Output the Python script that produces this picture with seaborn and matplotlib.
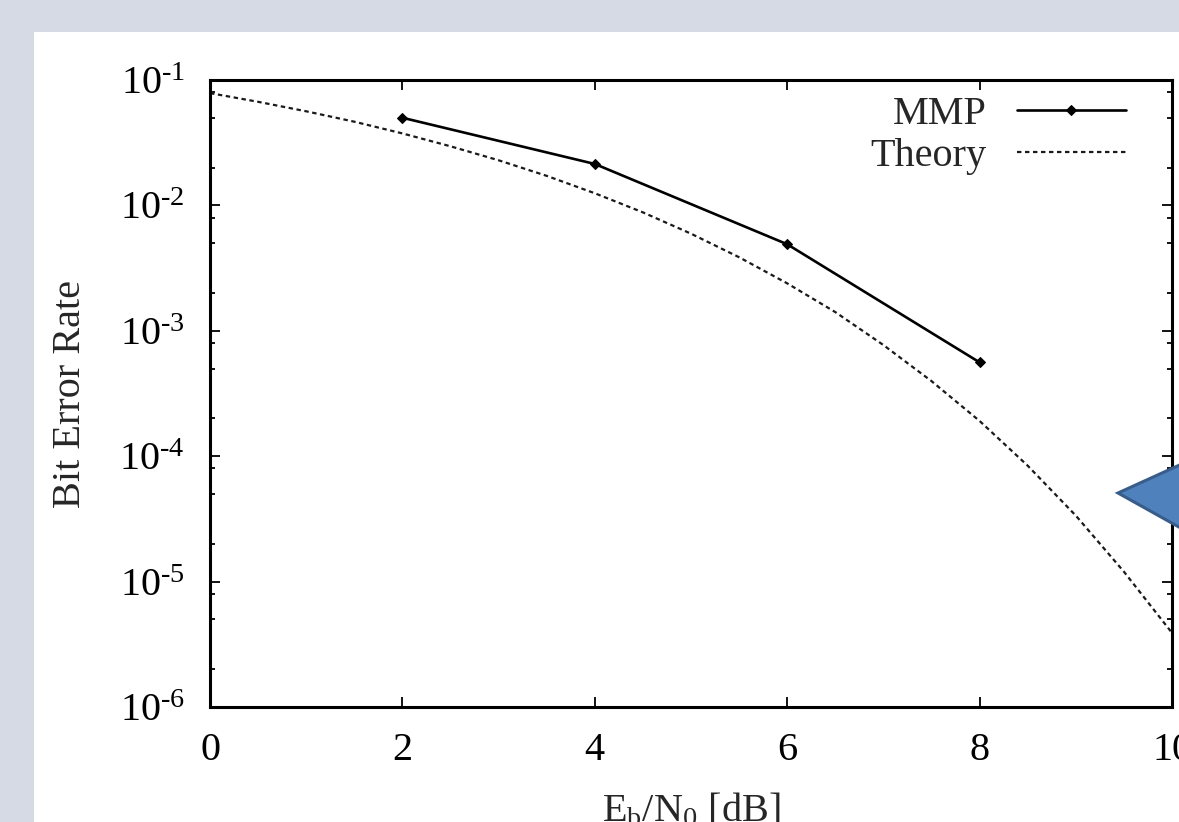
import matplotlib
matplotlib.use("Agg")
import matplotlib.pyplot as plt
from matplotlib.patches import Rectangle, Polygon
from matplotlib.ticker import LogLocator, NullFormatter, FixedLocator
import seaborn as sns
import pandas as pd

# ---- data ----
snr_theory = [0.0, 0.5, 1.0, 1.5, 2.0, 2.5, 3.0, 3.5, 4.0, 4.5, 5.0,
              5.5, 6.0, 6.5, 7.0, 7.5, 8.0, 8.5, 9.0, 9.5, 10.0]
ber_theory = [7.86e-2, 6.70e-2, 5.63e-2, 4.65e-2, 3.75e-2, 2.96e-2, 2.29e-2,
              1.72e-2, 1.25e-2, 8.8e-3, 5.95e-3, 3.86e-3, 2.39e-3, 1.41e-3,
              7.7e-4, 3.97e-4, 1.91e-4, 8.4e-5, 3.36e-5, 1.2e-5, 3.9e-6]
snr_mmp = [2, 4, 6, 8]
ber_mmp = [5.0e-2, 2.14e-2, 4.9e-3, 5.6e-4]

x_ticks = [0, 2, 4, 6, 8, 10]
x_tick_labels = ["0", "2", "4", "6", "8", "10"]
y_ticks = [1e-6, 1e-5, 1e-4, 1e-3, 1e-2, 1e-1]
y_tick_labels = [r"10$^{\text{-}6}$", r"10$^{\text{-}5}$", r"10$^{\text{-}4}$",
                 r"10$^{\text{-}3}$", r"10$^{\text{-}2}$", r"10$^{\text{-}1}$"]
series_labels = ["MMP", "Theory"]
x_label = r"E$_{\mathrm{b}}$/N$_{\mathrm{0}}$ [dB]"
y_label = "Bit Error Rate"

# ---- style ----
sns.set_style("ticks")
plt.rcParams["font.family"] = ["Liberation Serif", "DejaVu Serif"]
plt.rcParams["mathtext.fontset"] = "custom"
plt.rcParams["mathtext.rm"] = "Liberation Serif"
plt.rcParams["mathtext.it"] = "Liberation Serif:italic"
plt.rcParams["mathtext.bf"] = "Liberation Serif:bold"

FS = 29
W, H = 1179, 822
fig = plt.figure(figsize=(W / 100, H / 100), dpi=100)
fig.patch.set_facecolor("#d5dae4")
fig.add_artist(Rectangle((34 / W, 0), 1.0, (H - 32) / H, transform=fig.transFigure,
                         facecolor="white", edgecolor="none", zorder=-10))

ax = fig.add_axes([210 / W, (H - 707) / H, (1172 - 210) / W, (707 - 80) / H])
ax.set_facecolor("white")

df_mmp = pd.DataFrame({"snr": snr_mmp, "ber": ber_mmp})
df_th = pd.DataFrame({"snr": snr_theory, "ber": ber_theory})

sns.lineplot(data=df_mmp, x="snr", y="ber", ax=ax, color="black", linewidth=1.9,
             marker="D", markersize=5, markeredgecolor="black",
             label=series_labels[0])
sns.lineplot(data=df_th, x="snr", y="ber", ax=ax, color="#1a1a1a", linewidth=1.6,
             linestyle=(0, (2.0, 1.6)), label=series_labels[1])

ax.set_yscale("log")
ax.set_xlim(0, 10)
ax.set_ylim(1e-6, 1e-1)
ax.xaxis.set_major_locator(FixedLocator(x_ticks))
ax.set_xticklabels(x_tick_labels)
ax.yaxis.set_major_locator(FixedLocator(y_ticks))
ax.set_yticklabels(y_tick_labels)
ax.yaxis.set_minor_locator(LogLocator(base=10, subs=[2, 5, 8], numticks=20))
ax.yaxis.set_minor_formatter(NullFormatter())
ax.xaxis.set_minor_locator(FixedLocator([]))

for s in ax.spines.values():
    s.set_linewidth(2.2)
    s.set_color("black")
    s.set_visible(True)

ax.tick_params(axis="both", which="both", direction="in", top=True, right=True,
               colors="black", labelsize=FS)
ax.tick_params(axis="both", which="major", length=7, width=1.3)
ax.tick_params(axis="both", which="minor", length=3.5, width=1.3)
ax.tick_params(axis="x", which="major", pad=18)
ax.tick_params(axis="y", which="major", pad=18)

ax.set_xlabel(x_label, fontsize=FS, labelpad=16)
ax.set_ylabel(y_label, fontsize=FS, labelpad=22)

leg = ax.legend(loc="upper right", bbox_to_anchor=(0.952, 0.975), frameon=False,
                markerfirst=False, handlelength=2.7, handletextpad=0.75,
                labelspacing=0.12, fontsize=FS, borderpad=0, borderaxespad=0)

# blue callout arrow shape overlapping the right edge
pts = [(1118, 493), (1195, 458), (1195, 536)]
fig.add_artist(Polygon([(x / W, 1 - y / H) for x, y in pts], closed=True,
                       transform=fig.transFigure, facecolor="#4f81bd",
                       edgecolor="#385d8a", linewidth=2.2, zorder=10, clip_on=False))

fig.savefig("out.png", dpi=100, facecolor=fig.get_facecolor())
